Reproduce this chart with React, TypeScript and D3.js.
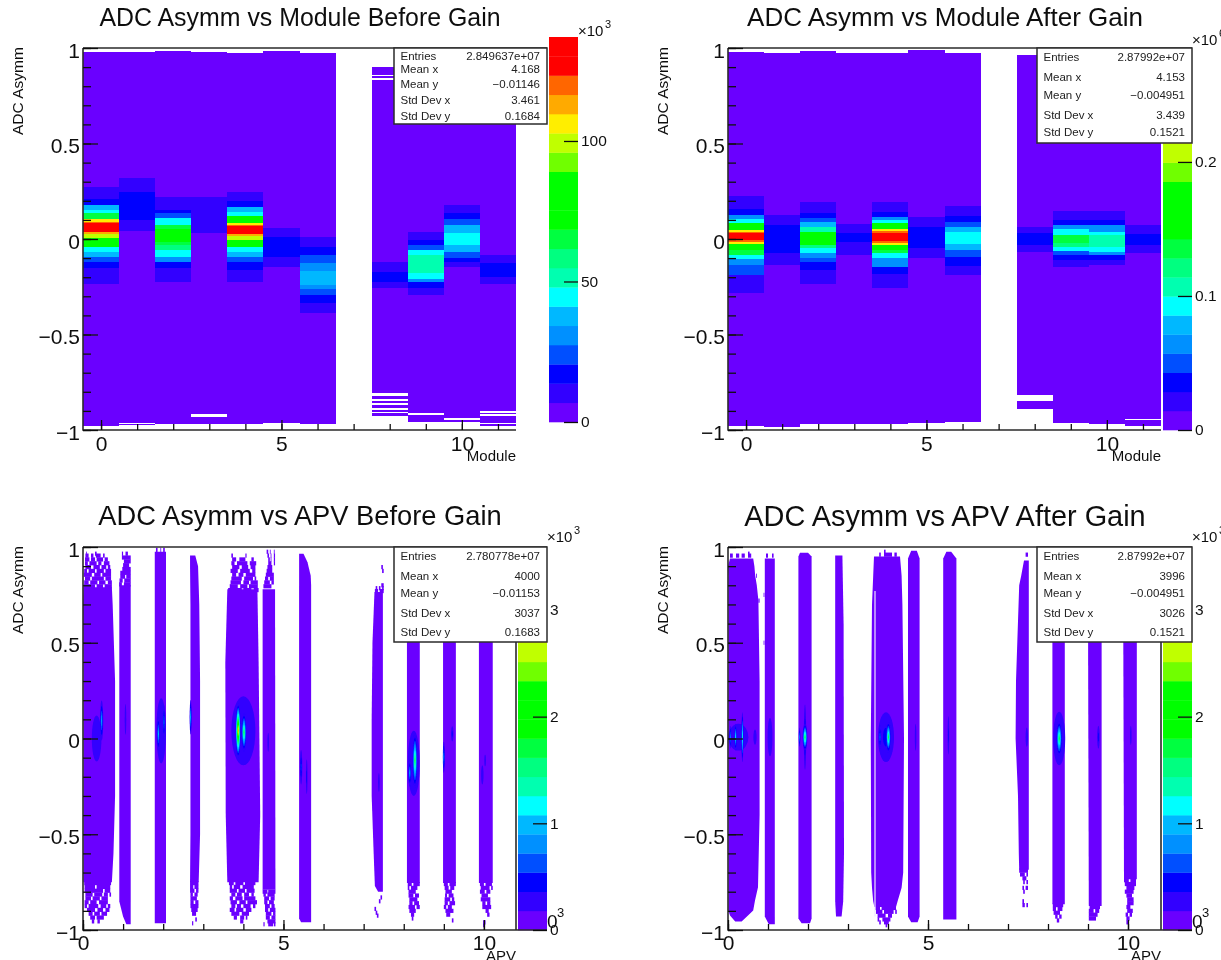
import { useEffect, useRef } from 'react'
import * as d3 from 'd3'

// ================================================================== //
// Four ROOT style 2D histograms. Counts are read off the colour bands.
// Bins are listed top down as [upper edge, content]. A content of 0
// is an empty bin, the last entry closes the column.

type Step = [number, number]
type Outline = [number, number, number]

const palette = [
  '#6a00ff', '#3000ff', '#0000ff', '#0050ff', '#0090ff', '#00b8ff', '#00ffff',
  '#00ffb0', '#00ff80', '#00ff40', '#00ff00', '#00ff00', '#00ff00', '#70ff00',
  '#c0ff00', '#ffee00', '#ffaa00', '#ff6600', '#ff0000', '#ff0000',
]

const moduleBeforeBins: (Step[] | null)[] = [
  [[.981, 3.4], [.27, 10], [.208, 17], [.178, 38], [.152, 45], [.134, 65], [.103, 106], [.09, 120], [.082, 134], [.035, 113], [.027, 99], [.003, 79], [-.023, 72], [-.044, 45], [-.066, 38], [-.092, 24], [-.119, 17], [-.154, 10], [-.236, 3.4], [-.977, 0]],
  [[.981, 3.4], [.318, 10], [.244, 17], [.099, 10], [.042, 3.4], [-.962, 0], [-.968, 3.4], [-.974, 0]],
  [[.986, 3.4], [.218, 10], [.152, 17], [.134, 24], [.108, 45], [.073, 65], [.05, 72], [-.014, 65], [-.032, 58], [-.058, 45], [-.092, 31], [-.119, 17], [-.154, 10], [-.227, 3.4], [-.97, 0]],
  [[.979, 3.4], [.218, 10], [.033, 3.4], [-.918, 0], [-.93, 3.4], [-.97, 0]],
  [[.972, 3.4], [.248, 10], [.2, 17], [.17, 38], [.143, 45], [.12, 72], [.085, 106], [.075, 120], [.068, 134], [.024, 113], [.016, 99], [-.005, 79], [-.024, 72], [-.044, 45], [-.066, 38], [-.092, 24], [-.119, 17], [-.162, 10], [-.227, 3.4], [-.97, 0]],
  [[.986, 3.4], [.06, 10], [.009, 17], [-.092, 10], [-.145, 3.4], [-.965, 0]],
  [[.972, 3.4], [.009, 10], [-.044, 17], [-.084, 24], [-.127, 31], [-.166, 38], [-.241, 31], [-.262, 24], [-.293, 17], [-.336, 10], [-.389, 3.4], [-.97, 0]],
  null,
  [[.899, 3.4], [.859, 0], [.852, 3.4], [.841, 0], [.834, 3.4], [-.119, 10], [-.171, 17], [-.223, 10], [-.258, 3.4], [-.808, 0], [-.82, 3.4], [-.838, 0], [-.848, 3.4], [-.86, 0], [-.867, 3.4], [-.887, 0], [-.895, 3.4], [-.906, 0], [-.913, 3.4], [-.925, 0]],
  [[.97, 3.4], [.039, 10], [-.005, 17], [-.032, 24], [-.058, 45], [-.084, 51], [-.18, 45], [-.21, 31], [-.227, 17], [-.258, 10], [-.293, 3.4], [-.913, 0], [-.921, 3.4], [-.956, 0]],
  [[.97, 3.4], [.178, 10], [.134, 17], [.103, 24], [.073, 38], [.03, 45], [-.032, 38], [-.066, 24], [-.1, 17], [-.119, 10], [-.148, 3.4], [-.939, 0], [-.948, 3.4], [-.958, 0]],
  [[.97, 3.4], [-.084, 10], [-.127, 17], [-.197, 10], [-.236, 3.4], [-.9, 0], [-.909, 3.4], [-.918, 0], [-.927, 3.4], [-.962, 0], [-.969, 3.4], [-.977, 0]],
]

const moduleAfterBins: (Step[] | null)[] = [
  [[.981, .007], [.225, .021], [.155, .036], [.126, .064], [.103, .093], [.085, .15], [.047, .221], [.038, .249], [.03, .278], [-.006, .249], [-.014, .221], [-.026, .178], [-.037, .15], [-.06, .135], [-.084, .093], [-.106, .064], [-.136, .05], [-.188, .021], [-.284, .007], [-.979, 0]],
  [[.972, .007], [.126, .021], [.073, .036], [-.075, .021], [-.136, .007], [-.986, 0]],
  [[.986, .007], [.195, .021], [.134, .036], [.112, .05], [.09, .078], [.064, .107], [.038, .15], [-.031, .121], [-.049, .093], [-.075, .064], [-.1, .05], [-.123, .036], [-.162, .021], [-.235, .007], [-.97, 0]],
  [[.972, .007], [.079, .021], [.03, .036], [-.014, .021], [-.084, .007], [-.97, 0]],
  [[.976, .007], [.195, .021], [.143, .036], [.117, .064], [.1, .093], [.082, .15], [.051, .221], [.042, .249], [.033, .278], [-.01, .249], [-.019, .221], [-.03, .178], [-.043, .15], [-.06, .135], [-.075, .093], [-.1, .064], [-.145, .036], [-.184, .021], [-.258, .007], [-.97, 0]],
  [[.99, .007], [.117, .021], [.064, .036], [-.049, .021], [-.1, .007], [-.965, 0]],
  [[.976, .007], [.172, .021], [.12, .036], [.09, .05], [.064, .078], [.038, .093], [-.026, .078], [-.057, .05], [-.096, .036], [-.14, .021], [-.191, .007], [-.958, 0]],
  null,
  [[.963, .007], [.064, .021], [.03, .036], [-.032, .021], [-.066, .007], [-.817, 0], [-.848, .007], [-.892, 0]],
  [[.97, .007], [.148, .021], [.1, .036], [.074, .064], [.051, .093], [.022, .135], [-.02, .121], [-.04, .093], [-.063, .05], [-.084, .036], [-.11, .021], [-.145, .007], [-.962, 0]],
  [[.97, .007], [.148, .021], [.1, .036], [.074, .064], [.038, .093], [.022, .107], [-.043, .093], [-.066, .064], [-.084, .036], [-.11, .021], [-.136, .007], [-.97, 0]],
  [[.97, .007], [.073, .021], [.026, .036], [-.031, .021], [-.072, .007], [-.94, 0], [-.948, .007], [-.977, 0]],
]

// APV panels: outline of the filled strip as [y, x left, x right]
const apvBeforeStrips: Outline[][] = [
  [[.79, .01, .72], [.7, .0, .74], [.3, .01, .8], [-.3, .01, .8], [-.6, .01, .76], [-.75, .01, .72]],
  [[.8, .905, 1.19], [-.85, .905, 1.19], [-.93, 1.0, 1.19], [-.97, 1.08, 1.19]],
  [[.975, 1.79, 2.07], [-.965, 1.79, 2.07]],
  [[.955, 2.67, 2.8], [.9, 2.67, 2.87], [.7, 2.68, 2.9], [.3, 2.68, 2.92], [-.5, 2.68, 2.92], [-.75, 2.67, 2.885]],
  [[.78, 3.6, 4.35], [.4, 3.55, 4.38], [-.4, 3.56, 4.42], [-.75, 3.6, 4.38]],
  [[.78, 4.48, 4.79], [-.79, 4.48, 4.8]],
  [[.965, 5.39, 5.5], [.92, 5.39, 5.6], [.85, 5.39, 5.68], [.8, 5.39, 5.69], [-.94, 5.39, 5.69], [-.96, 5.44, 5.69]],
  [[.765, 7.27, 7.48], [.5, 7.22, 7.48], [.1, 7.2, 7.48], [-.3, 7.2, 7.48], [-.6, 7.25, 7.48], [-.77, 7.28, 7.48], [-.8, 7.36, 7.48]],
  [[.7, 8.08, 8.4], [-.755, 8.08, 8.4]],
  [[.7, 8.98, 9.3], [-.755, 8.98, 9.3]],
  [[.7, 9.875, 10.22], [-.755, 9.875, 10.22]],
]

const apvAfterStrips: Outline[][] = [
  [[.94, .05, .63], [.9, .0, .66], [.85, .01, .68], [.8, .01, .72], [.72, .01, .76], [.3, .01, .79], [-.4, .01, .79], [-.777, .01, .75], [-.846, .01, .675], [-.898, .01, .63], [-.924, .05, .5], [-.955, .18, .34]],
  [[.94, .92, 1.17], [-.93, .92, 1.17], [-.97, 1.02, 1.17]],
  [[.97, 1.8, 2.0], [.95, 1.76, 2.09], [-.94, 1.76, 2.09], [-.965, 1.84, 2.05]],
  [[.955, 2.68, 2.86], [.6, 2.68, 2.89], [-.6, 2.68, 2.9], [-.85, 2.68, 2.88], [-.93, 2.7, 2.84]],
  [[.95, 3.65, 4.3], [.85, 3.63, 4.34], [.7, 3.6, 4.36], [0, 3.57, 4.4], [-.7, 3.58, 4.38], [-.78, 3.6, 4.34], [-.85, 3.63, 4.24], [-.88, 3.66, 4.2]],
  [[.98, 4.58, 4.72], [.94, 4.5, 4.79], [-.93, 4.5, 4.79], [-.96, 4.58, 4.74]],
  [[.975, 5.46, 5.58], [.94, 5.38, 5.71], [-.945, 5.38, 5.71]],
  [[.93, 7.4, 7.52], [.85, 7.33, 7.52], [.8, 7.28, 7.52], [.3, 7.2, 7.52], [0, 7.19, 7.52], [-.3, 7.25, 7.52], [-.6, 7.27, 7.52], [-.685, 7.28, 7.52]],
  [[.7, 8.11, 8.42], [-.865, 8.11, 8.42]],
  [[.7, 9.0, 9.34], [-.875, 9.02, 9.34]],
  [[.7, 9.88, 10.22], [-.735, 9.9, 10.22]],
]

// sparse bins at the strip ends as rows: [y, x0, x1, x0, x1, ...]
const apvBeforeSparse: number[][] = [
  [.965, .08, .1, .3, .34], [.955, .06, .14, .2, .26, .32, .44, .5, .54], [.935, .05, .16, .2, .3, .34, .5, .54, .62], [.915, .05, .12, .16, .34, .38, .46, .52, .66],
  [.895, .06, .2, .26, .42, .46, .58, .62, .68], [.875, .03, .1, .14, .3, .34, .52, .56, .7], [.855, .02, .22, .28, .44, .48, .7], [.835, .05, .18, .22, .52, .56, .7],
  [.815, .03, .14, .18, .36, .4, .56, .62, .72], [.795, .02, .3, .34, .5, .54, .72],
  [-.755, .03, .7], [-.775, .04, .3, .34, .68], [-.795, .04, .5, .54, .68], [-.815, .06, .24, .28, .48, .52, .62, .66, .7], [-.835, .06, .2, .24, .42, .46, .62],
  [-.855, .04, .14, .18, .34, .4, .62], [-.875, .04, .1, .14, .38, .44, .58, .62, .68], [-.895, .1, .3, .36, .5, .56, .66], [-.915, .14, .24, .28, .42, .46, .6], [-.935, .18, .3, .34, .52], [-.955, .22, .28, .36, .42],
  [.965, .97, 1.0, 1.06, 1.12], [.945, .97, 1.19], [.925, 1.02, 1.19], [.905, 1.0, 1.15], [.885, .98, 1.19], [.865, .93, 1.19], [.845, .93, 1.05, 1.08, 1.19], [.825, .91, .99, 1.03, 1.19], [.805, .9, .97, 1.02, 1.19],
  [.985, 1.82, 1.86, 1.93, 1.95, 2.0, 2.04],
  [-.755, 2.67, 2.88], [-.775, 2.67, 2.75, 2.78, 2.88], [-.795, 2.67, 2.78, 2.82, 2.88], [-.815, 2.68, 2.74, 2.78, 2.86], [-.835, 2.68, 2.84], [-.855, 2.68, 2.76, 2.8, 2.88], [-.875, 2.68, 2.88], [-.895, 2.7, 2.86], [-.915, 2.72, 2.82], [-.945, 2.8, 2.84], [-.965, 2.72, 2.75],
  [.955, 3.7, 3.74, 4.05, 4.08], [.935, 3.72, 3.82, 3.9, 4.05, 4.2, 4.26], [.915, 3.7, 3.78, 3.84, 4.1, 4.16, 4.32], [.895, 3.72, 3.9, 3.96, 4.12, 4.18, 4.3], [.875, 3.68, 3.86, 3.92, 4.16, 4.22, 4.3],
  [.855, 3.72, 3.82, 3.88, 4.0, 4.06, 4.3], [.835, 3.7, 3.96, 4.02, 4.24, 4.28, 4.32], [.815, 3.68, 3.94, 4.0, 4.14, 4.18, 4.36], [.795, 3.66, 3.86, 3.92, 4.1, 4.14, 4.36], [.775, 3.62, 3.96, 4.0, 4.2, 4.26, 4.38],
  [-.755, 3.64, 3.76, 3.8, 4.0, 4.04, 4.3], [-.775, 3.66, 3.72, 3.76, 3.92, 3.98, 4.26], [-.795, 3.66, 3.84, 3.88, 4.04, 4.08, 4.28], [-.815, 3.7, 3.8, 3.84, 3.96, 4.02, 4.14, 4.2, 4.26], [-.835, 3.66, 3.74, 3.8, 3.98, 4.02, 4.3],
  [-.855, 3.68, 3.84, 3.9, 4.06, 4.1, 4.34], [-.875, 3.7, 3.8, 3.84, 3.94, 4.0, 4.18, 4.24, 4.3], [-.895, 3.66, 3.78, 3.82, 4.0, 4.06, 4.2], [-.915, 3.7, 3.9, 3.96, 4.14], [-.935, 3.76, 3.84, 3.92, 4.02, 4.06, 4.1], [-.955, 3.92, 4.0],
  [.975, 4.58, 4.62, 4.66, 4.68, 4.76, 4.78], [.955, 4.6, 4.64, 4.68, 4.7, 4.76, 4.79], [.935, 4.62, 4.66, 4.68, 4.7, 4.76, 4.79], [.915, 4.62, 4.7, 4.76, 4.79], [.895, 4.6, 4.72], [.875, 4.58, 4.72], [.855, 4.56, 4.76],
  [.835, 4.54, 4.62, 4.66, 4.76], [.815, 4.52, 4.66, 4.7, 4.76], [.795, 4.5, 4.7],
  [-.8, 4.48, 4.6, 4.62, 4.8], [-.815, 4.5, 4.56, 4.6, 4.78], [-.835, 4.52, 4.64, 4.68, 4.78], [-.855, 4.52, 4.6, 4.64, 4.76], [-.875, 4.54, 4.66, 4.7, 4.78], [-.895, 4.54, 4.62, 4.66, 4.8],
  [-.915, 4.56, 4.7, 4.74, 4.8], [-.935, 4.56, 4.66, 4.7, 4.8], [-.955, 4.6, 4.8], [-.97, 4.5, 4.53, 4.62, 4.74, 4.76, 4.8],
  [.895, 7.44, 7.48], [.875, 7.46, 7.5], [.8, 7.44, 7.5], [.785, 7.3, 7.34, 7.38, 7.42, 7.46, 7.5], [.77, 7.28, 7.36, 7.4, 7.5],
  [-.83, 7.42, 7.46], [-.85, 7.38, 7.42], [-.89, 7.27, 7.31], [-.91, 7.3, 7.34], [-.925, 7.33, 7.37],
  [-.76, 8.1, 8.2, 8.24, 8.4], [-.78, 8.1, 8.14, 8.18, 8.34], [-.8, 8.12, 8.3], [-.82, 8.12, 8.24, 8.28, 8.38], [-.84, 8.14, 8.34], [-.86, 8.14, 8.22, 8.26, 8.38], [-.88, 8.12, 8.28, 8.32, 8.4], [-.9, 8.14, 8.3], [-.92, 8.18, 8.26], [-.94, 8.2, 8.24],
  [-.76, 9.0, 9.1, 9.14, 9.3], [-.78, 9.02, 9.12, 9.16, 9.26], [-.8, 9.04, 9.2], [-.82, 9.03, 9.08, 9.12, 9.24], [-.84, 9.02, 9.16, 9.2, 9.26], [-.86, 9.02, 9.1, 9.14, 9.28], [-.88, 9.0, 9.06, 9.1, 9.2], [-.9, 9.04, 9.24], [-.92, 9.06, 9.16], [-.95, 9.2, 9.24],
  [-.76, 9.9, 10.0, 10.04, 10.2], [-.78, 9.92, 10.14, 10.18, 10.22], [-.8, 9.9, 10.02, 10.06, 10.16], [-.82, 9.94, 10.1], [-.84, 9.92, 10.16], [-.86, 9.96, 10.04, 10.08, 10.16], [-.88, 9.96, 10.18], [-.9, 10.04, 10.12], [-.92, 10.08, 10.14], [-.96, 9.98, 10.04], [-.975, 9.98, 10.02],
]

const apvAfterSparse: number[][] = [
  [.965, .5, .54], [.955, .05, .12, .2, .28, .34, .42, .5, .58], [.85, .7, .72], [.72, .76, .79], [.955, .95, 1.0, 1.1, 1.14], [.75, .89, .91], [.5, .89, .91],
  [.975, 3.9, 3.94], [.96, 3.78, 3.82, 3.9, 4.1, 4.16, 4.22],
  [-.885, 3.68, 3.8, 3.84, 4.2], [-.905, 3.7, 3.86, 3.9, 4.14, 4.18, 4.22], [-.925, 3.74, 3.94, 4.0, 4.1], [-.945, 3.74, 3.78, 3.86, 4.06], [-.96, 3.78, 3.82, 3.9, 4.02], [-.975, 3.94, 3.98],
  [.96, 7.44, 7.5], [-.69, 7.28, 7.5], [-.71, 7.3, 7.42, 7.46, 7.5], [-.73, 7.36, 7.46], [-.75, 7.38, 7.42, 7.46, 7.5], [-.78, 7.36, 7.4, 7.44, 7.5], [-.8, 7.38, 7.42], [-.85, 7.36, 7.4], [-.87, 7.36, 7.42, 7.46, 7.5],
  [-.87, 8.12, 8.38], [-.89, 8.12, 8.2, 8.24, 8.36], [-.91, 8.14, 8.3], [-.93, 8.18, 8.24, 8.28, 8.34], [-.95, 8.22, 8.28],
  [-.88, 9.04, 9.3], [-.9, 9.02, 9.14, 9.18, 9.28], [-.92, 9.02, 9.24], [-.94, 9.02, 9.2],
  [-.74, 9.9, 10.02, 10.06, 10.2], [-.76, 9.92, 10.2], [-.78, 9.96, 10.16], [-.8, 9.92, 10.14], [-.82, 9.96, 10.1], [-.84, 9.98, 10.14], [-.86, 9.98, 10.14], [-.88, 9.96, 10.06], [-.9, 9.98, 10.12], [-.92, 9.94, 10.0, 10.04, 10.1], [-.94, 9.96, 10.04], [-.96, 9.96, 10.0],
]

// white seam in strip 5 of the after panel: [x, y top, y bottom]
const apvAfterSeams = [[3.675, .77, -.93]]

// hot spots: [x, y, half width, half height, peak content]
const apvBeforeSpots = [
  [.34, 0, .12, .12, .28], [.465, .094, .04, .104, .9], [1.06, .1, .02, .08, .25], [1.95, .04, .12, .17, .3], [1.88, .024, .035, .087, 1.1], [2.02, .085, .03, .09, .8], [2.685, .111, .025, .09, 1.1],
  [4.0, .04, .3, .18, .25], [3.87, .042, .06, .14, 3.4], [4.015, .033, .06, .1, 2.3], [4.62, -.02, .02, .05, .35], [5.44, -.15, .03, .09, .7], [5.58, -.2, .02, .09, .4], [7.38, -.23, .02, .05, .3],
  [8.25, -.13, .15, .17, .3], [8.28, -.115, .06, .14, 2.2], [8.15, -.18, .04, .07, 1], [9.0, -.097, .025, .08, .9], [9.21, .024, .03, .04, .4], [9.96, -.19, .03, .05, .35], [10.03, -.115, .02, .03, .3],
]

const apvAfterSpots = [
  [.26, .007, .25, .07, .25], [.36, .007, .025, .13, 1.5], [.19, .007, .03, .07, 1.4], [.06, .007, .02, .06, .9], [.675, .007, .04, .04, .25], [1.05, .007, .06, .1, .25],
  [1.925, .007, .03, .17, .6], [1.925, .007, .06, .07, 2.2], [1.79, .007, .02, .05, 1], [3.95, .007, .2, .13, .4], [3.8, .007, .03, .06, .8], [4.01, .007, .06, .08, 2.2], [4.69, .007, .02, .07, .25],
  [5.51, .016, .02, .1, .4], [7.47, .007, .03, .05, .22], [8.28, 0, .15, .14, .4], [8.28, 0, .07, .09, 2], [9.26, .007, .03, .06, .5], [10.07, .016, .02, .05, .25],
]

const statLabels = ['Entries', 'Mean x', 'Mean y', 'Std Dev x', 'Std Dev y']
const statsModuleBefore = ['2.849637e+07', '4.168', '\u22120.01146', '3.461', '0.1684']
const statsModuleAfter = ['2.87992e+07', '4.153', '\u22120.004951', '3.439', '0.1521']
const statsApvBefore = ['2.780778e+07', '4000', '\u22120.01153', '3037', '0.1683']
const statsApvAfter = ['2.87992e+07', '3996', '\u22120.004951', '3026', '0.1521']

const FONT = '"Liberation Sans", Arial, sans-serif'
const INK = '#2b2b2b'

interface PanelConfig {
  title: string
  titleX: number
  titleY: number
  titleSize: number
  xLabel: string
  yTitleX: number
  left: number
  right: number
  top: number
  bottom: number
  xDomain: [number, number]
  xMajor: number[]
  xMinor: number[]
  xPad: number
  pal: [number, number, number, number] // x0, x1, top, bottom
  zMax: number
  zTicks: number[]
  expSup: string
  expY: number
  box: [number, number, number, number]
  statRows: number[]
  stats: string[]
  closeRight?: boolean
}

const drawAxes = (root: any, c: PanelConfig, x: any, y: any, zScale: any) => {
  const g = root.append('g').attr('font-family', FONT)

  // frame first, ticks on top
  const rightEdge = c.closeRight ? `M${c.right},${c.top}L${c.right},${c.bottom}` : ''
  g.append('path')
    .attr('d', `M${c.left},${c.top}L${c.box[1]},${c.top}M${c.left},${c.top}L${c.left},${c.bottom}L${c.closeRight ? c.pal[1] : c.right},${c.bottom}${rightEdge}`)
    .attr('fill', 'none').attr('stroke', INK).attr('stroke-width', 1.6)

  const yMinor = d3.axisLeft(y).tickValues(d3.range(-10, 11).map(d => d / 10)).tickSize(-8).tickFormat(() => '')
  const yMajor = d3.axisLeft(y).tickValues([-1, -.5, 0, .5, 1]).tickSize(-15).tickPadding(3)
    .tickFormat((d: any) => d3.format('')(d).replace('-', '\u2212'))
  const xMinorAxis = d3.axisBottom(x).tickValues(c.xMinor).tickSize(-6).tickFormat(() => '')
  const xMajorAxis = d3.axisBottom(x).tickValues(c.xMajor).tickSize(-10).tickPadding(c.xPad).tickFormat(d3.format('d') as any)

  const left = g.append('g').attr('transform', `translate(${c.left},0)`)
  left.append('g').call(yMinor as any)
  left.append('g').call(yMajor as any).selectAll('text').attr('dy', 9).attr('font-size', 21).attr('fill', '#111')
  const bottom = g.append('g').attr('transform', `translate(0,${c.bottom})`)
  bottom.append('g').call(xMinorAxis as any)
  bottom.append('g').call(xMajorAxis as any).selectAll('text').attr('font-size', 21).attr('fill', '#111')

  // palette axis
  const zAxis = d3.axisRight(zScale).tickValues(c.zTicks).tickSize(-14).tickPadding(3)
    .tickFormat(d3.format('') as any)
  g.append('g').attr('transform', `translate(${c.pal[1]},0)`).call(zAxis as any)
    .selectAll('text').attr('font-size', 15.5).attr('fill', '#111')

  g.selectAll('.domain').remove()
  g.selectAll('.tick line').attr('stroke', '#111').attr('stroke-width', 1.3)

  g.append('text').text(c.title)
    .attr('x', c.titleX).attr('y', c.titleY).attr('text-anchor', 'middle')
    .attr('font-size', c.titleSize).attr('fill', '#111')
  g.append('text').text(c.xLabel)
    .attr('x', c.right).attr('y', c.bottom + 31).attr('text-anchor', 'end')
    .attr('font-size', 15).attr('fill', '#111')
  g.append('text').text('ADC Asymm')
    .attr('transform', `translate(${c.yTitleX},${c.top + 87}) rotate(-90)`)
    .attr('font-size', 15.5).attr('fill', '#111')

  g.append('text').text('\u00d710')
    .attr('x', c.pal[1]).attr('y', c.expY).attr('font-size', 15).attr('fill', '#111')
  g.append('text').text(c.expSup)
    .attr('x', c.pal[1] + 27).attr('y', c.expY - 8).attr('font-size', 11).attr('fill', '#111')

  // the APV palettes also carry a stray exponent beside their zero
  if (c.closeRight) {
    g.append('text').text('0').attr('x', c.pal[1]).attr('y', c.bottom - 2)
      .attr('font-size', 19).attr('fill', '#111')
    g.append('text').text('3').attr('x', c.pal[1] + 10).attr('y', c.bottom - 13)
      .attr('font-size', 13).attr('fill', '#111')
  }

  // stats box
  const [bx0, bx1, by0, by1] = c.box
  g.append('rect').attr('x', bx0).attr('y', by0).attr('width', bx1 - bx0).attr('height', by1 - by0)
    .attr('fill', 'white').attr('stroke', INK).attr('stroke-width', 1.5)
  statLabels.forEach((label, i) => {
    g.append('text').text(label).attr('x', bx0 + 6.5).attr('y', c.statRows[i] + 4)
      .attr('font-size', 11.5).attr('fill', '#222')
    g.append('text').text(c.stats[i]).attr('x', bx1 - 7).attr('y', c.statRows[i] + 4)
      .attr('text-anchor', 'end').attr('font-size', 11.5).attr('fill', '#222')
  })
}

const drawPalette = (root: any, c: PanelConfig) => {
  const band = (c.pal[3] - c.pal[2]) / palette.length
  root.append('g').selectAll('rect').data(palette).enter().append('rect')
    .attr('x', c.pal[0])
    .attr('y', (_: string, i: number) => c.pal[3] - (i + 1) * band)
    .attr('width', c.pal[1] - c.pal[0])
    .attr('height', band + .3)
    .attr('fill', (d: string) => d)
}

const scalesFor = (c: PanelConfig) => ({
  x: d3.scaleLinear().domain(c.xDomain).range([c.left, c.right]),
  y: d3.scaleLinear().domain([-1, 1]).range([c.bottom, c.top]),
  z: d3.scaleLinear().domain([0, c.zMax]).range([c.pal[3], c.pal[2]]),
  color: d3.scaleQuantize<string>().domain([0, c.zMax]).range(palette),
})

const createModulePanel = (root: any, c: PanelConfig, bins: (Step[] | null)[]) => {
  const { x, y, z, color } = scalesFor(c)
  const marks = root.append('g').attr('shape-rendering', 'crispEdges')
  bins.forEach((steps, module) => {
    if (!steps) return
    marks.selectAll(null)
      .data(steps.slice(0, -1).map((s, i) => ({ hi: s[0], lo: steps[i + 1][0], n: s[1] })).filter(d => d.n > 0))
      .enter().append('rect')
      .attr('x', x(module - .5))
      .attr('width', x(module + .5) - x(module - .5))
      .attr('y', (d: any) => y(d.hi))
      .attr('height', (d: any) => y(d.lo) - y(d.hi))
      .attr('fill', (d: any) => color(d.n))
  })
  drawPalette(root, c)
  drawAxes(root, c, x, y, z)
}

const createApvPanel = (
  root: any, c: PanelConfig, strips: Outline[][], sparse: number[][], spots: number[][], seams: number[][],
) => {
  const { x, y, z, color } = scalesFor(c)
  const marks = root.append('g')
  const area = d3.area<Outline>().x0(d => x(d[1])).x1(d => x(d[2])).y(d => y(d[0]))
  marks.selectAll('path.strip').data(strips).enter().append('path')
    .attr('class', 'strip').attr('d', (d: Outline[]) => area(d)).attr('fill', palette[0])

  const runs = sparse.flatMap(r => d3.range(1, r.length, 2).map(i => ({ y: r[0], a: r[i], b: r[i + 1] })))
  marks.selectAll('rect.run').data(runs).enter().append('rect')
    .attr('class', 'run')
    .attr('x', (d: any) => x(d.a))
    .attr('width', (d: any) => x(d.b) - x(d.a))
    .attr('y', (d: any) => y(d.y) - 2.1)
    .attr('height', 4.2)
    .attr('fill', palette[0])

  seams.forEach(s => {
    marks.append('line').attr('x1', x(s[0])).attr('x2', x(s[0])).attr('y1', y(s[1])).attr('y2', y(s[2]))
      .attr('stroke', '#efe6ff').attr('stroke-width', 1.2)
  })

  // nested contours from the peak content down to the lowest colour
  spots.forEach(([sx, sy, hw, hh, peak]) => {
    const top = Math.max(1, palette.indexOf(color(peak)))
    d3.range(1, top + 1).forEach(level => {
      const s = Math.pow(1 - (level - 1) / top, 1.4)
      marks.append('ellipse')
        .attr('cx', x(sx)).attr('cy', y(sy))
        .attr('rx', (x(sx + hw) - x(sx)) * s).attr('ry', (y(sy) - y(sy + hh)) * s)
        .attr('fill', palette[level])
    })
  })

  drawPalette(root, c)
  drawAxes(root, c, x, y, z)
}

const moduleTicks = d3.range(0, 12)
const apvTicks = d3.range(0, 11)

const commonModule = {
  xLabel: 'Module', top: 48, bottom: 430, xDomain: [-.5, 11.5] as [number, number],
  xMajor: [0, 5, 10], xMinor: moduleTicks, xPad: 6,
}
const commonApv = {
  xLabel: 'APV', top: 547, bottom: 930, xMajor: [0, 5, 10], xMinor: apvTicks, xPad: 5, closeRight: true,
}

export default function App() {
  const ref = useRef<SVGSVGElement>(null)

  useEffect(() => {
    const svg = d3.select(ref.current)
    svg.selectAll('*').remove()
    svg.append('defs').append('filter').attr('id', 'soft')
      .attr('x', 0).attr('y', 0).attr('width', 1).attr('height', 1)
      .append('feGaussianBlur').attr('stdDeviation', .6)
    const root = svg.append('g').attr('filter', 'url(#soft)')
    root.append('rect').attr('width', 1221).attr('height', 960).attr('fill', 'white')

    createModulePanel(root, {
      ...commonModule, title: 'ADC Asymm vs Module Before Gain', titleX: 300, titleY: 26, titleSize: 24.9, yTitleX: 23,
      left: 83, right: 516, pal: [549, 578, 37, 422], zMax: 137, zTicks: [0, 50, 100],
      expSup: '3', expY: 36, box: [394, 547, 48, 124],
      statRows: [56, 69, 84, 100, 116], stats: statsModuleBefore,
    }, moduleBeforeBins)

    createModulePanel(root, {
      ...commonModule, title: 'ADC Asymm vs Module After Gain', titleX: 945, titleY: 26, titleSize: 26, yTitleX: 668,
      left: 728, right: 1161, pal: [1163, 1192, 48, 430], zMax: .285, zTicks: [0, .1, .2],
      expSup: '6', expY: 45, box: [1037, 1192, 48, 143],
      statRows: [57, 77, 95, 115, 132], stats: statsModuleAfter,
    }, moduleAfterBins)

    createApvPanel(root, {
      ...commonApv, title: 'ADC Asymm vs APV Before Gain', titleX: 300, titleY: 525, titleSize: 27.3, yTitleX: 23,
      xDomain: [0, 10.8], left: 83, right: 516, pal: [518, 547, 547, 930], zMax: 3.59, zTicks: [0, 1, 2, 3],
      expSup: '3', expY: 542, box: [394, 547, 547, 642],
      statRows: [556, 576, 593, 613, 632], stats: statsApvBefore,
    }, apvBeforeStrips, apvBeforeSparse, apvBeforeSpots, [])

    createApvPanel(root, {
      ...commonApv, title: 'ADC Asymm vs APV After Gain', titleX: 945, titleY: 526, titleSize: 28.9, yTitleX: 668,
      xDomain: [0, 10.825], left: 728, right: 1161, pal: [1163, 1192, 547, 930], zMax: 3.59, zTicks: [0, 1, 2, 3],
      expSup: '3', expY: 542, box: [1037, 1192, 547, 642],
      statRows: [556, 576, 593, 613, 632], stats: statsApvAfter,
    }, apvAfterStrips, apvAfterSparse, apvAfterSpots, apvAfterSeams)
  }, [])

  return (
    <svg ref={ref} width={1221} height={960}
      style={{ position: 'absolute', left: 0, top: 0, display: 'block', background: 'white' }} />
  )
}
